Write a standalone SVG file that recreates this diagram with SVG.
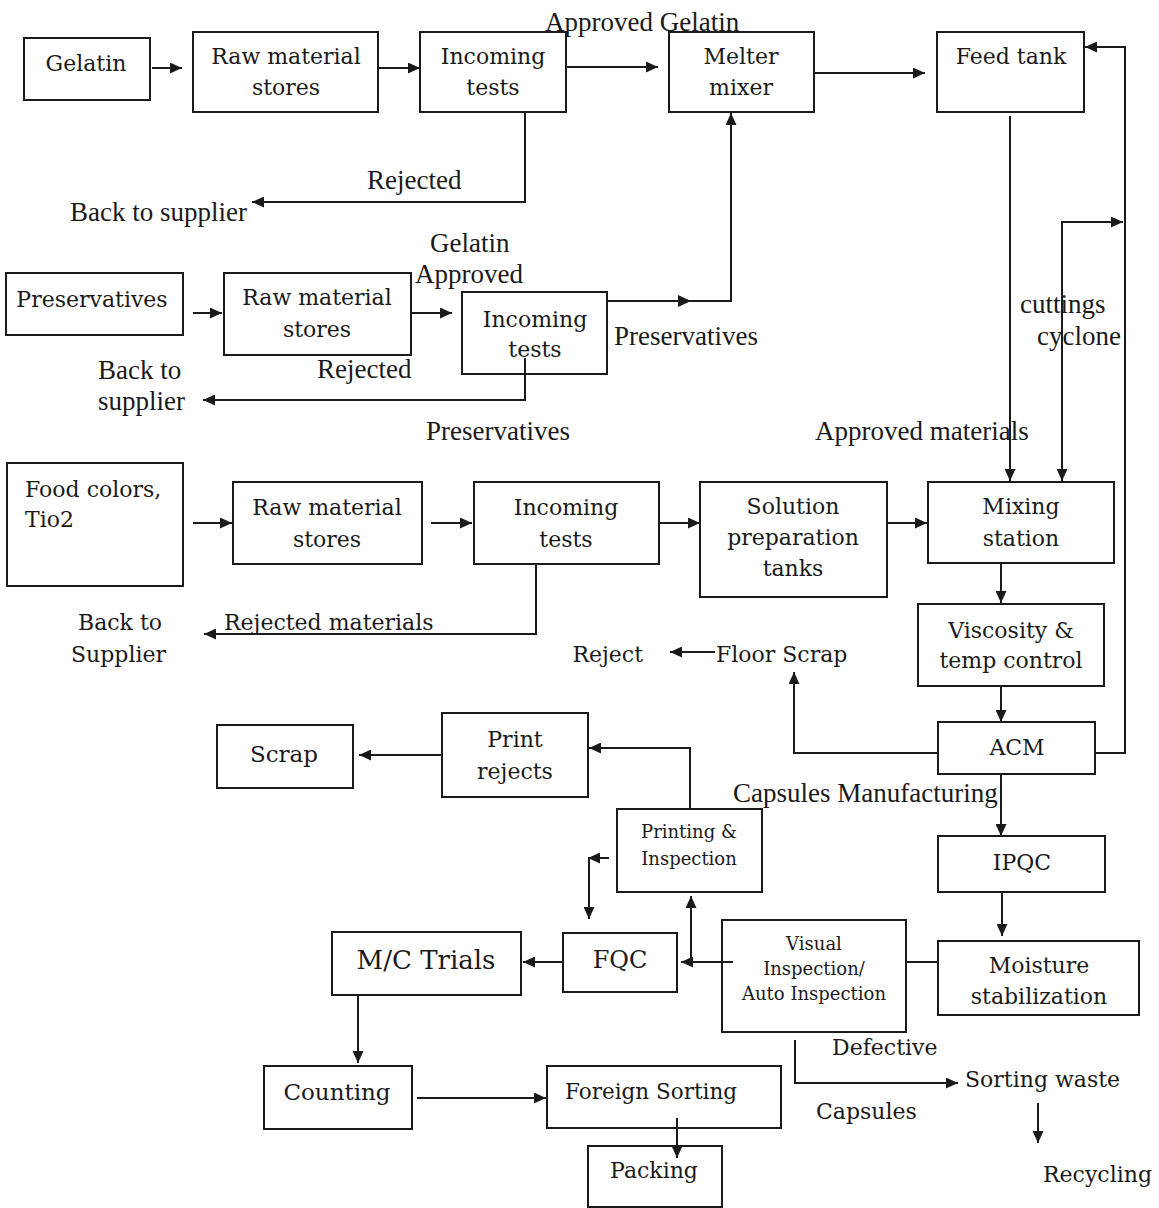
<svg xmlns="http://www.w3.org/2000/svg" width="1159" height="1208" viewBox="0 0 1159 1208">
<defs>
<style>
.box{fill:#fff;stroke:#1a1a1a;stroke-width:2}
.bt{font-family:"DejaVu Serif","Liberation Serif",serif;font-size:22px;fill:#1a1a1a;text-anchor:middle}
.sm{font-size:18px}
.lb{font-family:"Liberation Serif","Times New Roman",serif;font-size:27px;fill:#1a1a1a}
.pl{font-family:"DejaVu Serif","Liberation Serif",serif;font-size:22px;fill:#1a1a1a}
.c{fill:none;stroke:#1a1a1a;stroke-width:2}
.a{marker-end:url(#ah)}
</style>
<marker id="ah" markerUnits="userSpaceOnUse" markerWidth="13" markerHeight="11" refX="12" refY="5.5" orient="auto">
<path d="M0,0 L12,5.5 L0,11 z" fill="#1a1a1a"/>
</marker>
</defs>
<rect width="1159" height="1208" fill="#fff"/>

<g id="gelatin"><rect class="box" x="24" y="38" width="126" height="62"/><text class="bt" x="86" y="71">Gelatin</text></g>
<g id="raw1"><rect class="box" x="193" y="32" width="185" height="80"/><text class="bt" x="286" y="64">Raw material</text><text class="bt" x="286" y="95">stores</text></g>
<g id="inc1"><rect class="box" x="420" y="32" width="146" height="80"/><text class="bt" x="493" y="64">Incoming</text><text class="bt" x="493" y="95">tests</text></g>
<g id="melter"><rect class="box" x="669" y="32" width="145" height="80"/><text class="bt" x="741" y="64">Melter</text><text class="bt" x="741" y="95">mixer</text></g>
<g id="feed"><rect class="box" x="937" y="32" width="147" height="80"/><text class="bt" x="1011" y="64">Feed tank</text></g>

<g id="pres"><rect class="box" x="6" y="273" width="177" height="62"/><text class="bt" x="92" y="307">Preservatives</text></g>
<g id="raw2"><rect class="box" x="224" y="273" width="187" height="82"/><text class="bt" x="317" y="305">Raw material</text><text class="bt" x="317" y="337">stores</text></g>
<g id="inc2"><rect class="box" x="462" y="292" width="145" height="82"/><text class="bt" x="535" y="327">Incoming</text><text class="bt" x="535" y="357">tests</text></g>

<g id="food"><rect class="box" x="7" y="463" width="176" height="123"/><text class="bt" style="text-anchor:start" x="25" y="497">Food colors,</text><text class="bt" style="text-anchor:start" x="25" y="527">Tio2</text></g>
<g id="raw3"><rect class="box" x="233" y="482" width="189" height="82"/><text class="bt" x="327" y="515">Raw material</text><text class="bt" x="327" y="547">stores</text></g>
<g id="inc3"><rect class="box" x="474" y="482" width="185" height="82"/><text class="bt" x="566" y="515">Incoming</text><text class="bt" x="566" y="547">tests</text></g>
<g id="solution"><rect class="box" x="700" y="482" width="187" height="115"/><text class="bt" x="793" y="514">Solution</text><text class="bt" x="793" y="545">preparation</text><text class="bt" x="793" y="576">tanks</text></g>
<g id="mixing"><rect class="box" x="928" y="482" width="186" height="81"/><text class="bt" x="1021" y="514">Mixing</text><text class="bt" x="1021" y="546">station</text></g>
<g id="viscosity"><rect class="box" x="918" y="604" width="186" height="82"/><text class="bt" x="1011" y="638">Viscosity &amp;</text><text class="bt" x="1011" y="668">temp control</text></g>
<g id="acm"><rect class="box" x="938" y="722" width="157" height="52"/><text class="bt" x="1017" y="755">ACM</text></g>
<g id="ipqc"><rect class="box" x="938" y="836" width="167" height="56"/><text class="bt" x="1022" y="870">IPQC</text></g>
<g id="moisture"><rect class="box" x="938" y="941" width="201" height="74"/><text class="bt" x="1039" y="973">Moisture</text><text class="bt" x="1039" y="1004">stabilization</text></g>
<g id="visual"><rect class="box" x="722" y="920" width="184" height="112"/><text class="bt sm" x="814" y="950">Visual</text><text class="bt sm" x="814" y="975">Inspection/</text><text class="bt sm" x="814" y="1000">Auto Inspection</text></g>
<g id="printing"><rect class="box" x="617" y="809" width="145" height="83"/><text class="bt sm" x="689" y="838">Printing &amp;</text><text class="bt sm" x="689" y="865">Inspection</text></g>
<g id="printrejects"><rect class="box" x="442" y="713" width="146" height="84"/><text class="bt" x="515" y="747">Print</text><text class="bt" x="515" y="779">rejects</text></g>
<g id="scrap"><rect class="box" x="217" y="725" width="136" height="63"/><text class="bt" style="font-size:23px" x="284" y="762">Scrap</text></g>
<g id="fqc"><rect class="box" x="563" y="933" width="114" height="59"/><text class="bt" style="font-size:24px" x="620" y="968">FQC</text></g>
<g id="mctrials"><rect class="box" x="332" y="932" width="189" height="63"/><text class="bt" style="font-size:26px" x="426" y="969">M/C Trials</text></g>
<g id="counting"><rect class="box" x="264" y="1066" width="148" height="63"/><text class="bt" style="font-size:23px" x="337" y="1100">Counting</text></g>
<g id="foreign"><rect class="box" x="547" y="1066" width="234" height="62"/><text class="bt" style="font-size:21.5px" x="651" y="1099">Foreign Sorting</text></g>
<g id="packing"><rect class="box" x="588" y="1146" width="134" height="61"/><text class="bt" x="654" y="1178">Packing</text></g>

<g id="connectors">
<path class="c a" d="M152,68 L182,68"/>
<path class="c a" d="M378,68 L420,68"/>
<path class="c a" d="M566,67 L658,67"/>
<path class="c a" d="M814,73 L925,73"/>
<path class="c a" d="M1095,753 L1125,753 L1125,47 L1085,47"/>
<path class="c a" d="M1062,350 L1062,481"/>
<path class="c a" d="M1062,350 L1062,222 L1123,222"/>
<path class="c a" d="M1010,116 L1010,481"/>
<path class="c a" d="M525,113 L525,202 L252,202"/>
<path class="c a" d="M193,313 L222,313"/>
<path class="c a" d="M412,313 L452,313"/>
<path class="c a" d="M607,301 L731,301 L731,113"/>
<path d="M678,295 L691,301 L678,307 z" fill="#1a1a1a"/>
<path class="c a" d="M525,358 L525,400 L203,400"/>
<path class="c a" d="M193,523 L232,523"/>
<path class="c a" d="M431,523 L472,523"/>
<path class="c a" d="M659,523 L700,523"/>
<path class="c a" d="M887,523 L927,523"/>
<path class="c a" d="M536,564 L536,634 L204,634"/>
<path class="c a" d="M1001,563 L1001,603"/>
<path class="c a" d="M1001,686 L1001,722"/>
<path class="c a" d="M938,753 L794,753 L794,672"/>
<path class="c a" d="M715,652 L670,652"/>
<path class="c a" d="M1001,774 L1001,836"/>
<path class="c a" d="M1002,892 L1002,936"/>
<path class="c" d="M906,962 L938,962"/>
<path class="c a" d="M733,962 L681,962"/>
<path class="c a" d="M691,962 L691,896"/>
<path class="c a" d="M690,809 L690,748 L589,748"/>
<path class="c a" d="M441,755 L359,755"/>
<path class="c a" d="M609,858 L588,858"/>
<path class="c a" d="M589,858 L589,919"/>
<path class="c a" d="M563,962 L523,962"/>
<path class="c a" d="M358,995 L358,1063"/>
<path class="c a" d="M417,1098 L546,1098"/>
<path class="c a" d="M677,1118 L677,1158"/>
<path class="c a" d="M795,1040 L795,1083 L958,1083"/>
<path class="c a" d="M1038,1103 L1038,1143"/>
</g>

<g id="labels">
<text class="lb" x="545" y="31">Approved Gelatin</text>
<text class="lb" x="367" y="189">Rejected</text>
<text class="lb" x="70" y="221">Back to supplier</text>
<text class="lb" x="430" y="252">Gelatin</text>
<text class="lb" x="415" y="283">Approved</text>
<text class="lb" x="317" y="378">Rejected</text>
<text class="lb" x="98" y="379">Back to</text>
<text class="lb" x="98" y="410">supplier</text>
<text class="lb" x="614" y="345">Preservatives</text>
<text class="lb" x="426" y="440">Preservatives</text>
<text class="lb" x="815" y="440">Approved materials</text>
<text class="lb" x="1020" y="313">cuttings</text>
<text class="lb" x="1037" y="345">cyclone</text>
<text class="lb" x="733" y="802">Capsules Manufacturing</text>
<text class="pl" x="78" y="630">Back to</text>
<text class="pl" x="71" y="662">Supplier</text>
<text class="pl" x="224" y="630">Rejected materials</text>
<text class="pl" x="643" y="662" style="text-anchor:end">Reject</text>
<text class="pl" x="716" y="662">Floor Scrap</text>
<text class="pl" x="832" y="1055">Defective</text>
<text class="pl" x="965" y="1087">Sorting waste</text>
<text class="pl" x="816" y="1119">Capsules</text>
<text class="pl" x="1043" y="1182">Recycling</text>
</g>
</svg>
